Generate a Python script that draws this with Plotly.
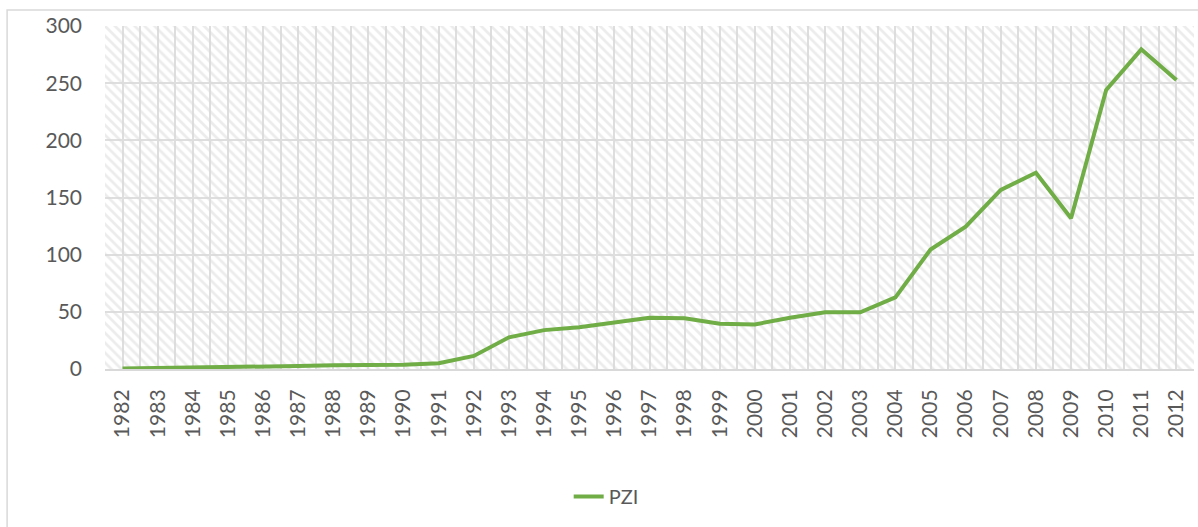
import plotly.graph_objects as go

years = [str(y) for y in range(1982, 2013)]
pzi = [0.5, 0.8, 1.5, 1.8, 2.2, 2.6, 3.2, 3.5, 3.7, 5.0, 11.4, 27.7, 34.0, 36.5, 40.8,
       44.9, 44.3, 39.6, 39.0, 44.8, 49.6, 49.6, 62.7, 104.5, 124.5, 156.6, 171.7,
       131.8, 244.0, 279.6, 252.8]
series_name = "PZI"
y_max = 300
y_step = 50

n = len(years)
xs = list(range(n))
text_color = "#595959"
grid_color = "#dedede"
font_family = "Lato, 'Open Sans', sans-serif"

fig = go.Figure()

# hatched plot-area background (decoration)
fig.add_trace(go.Bar(
    x=[(n - 1) / 2], y=[y_max], width=[n], base=0,
    marker=dict(color="rgba(0,0,0,0)", line=dict(width=0),
                pattern=dict(shape="\\", size=7, solidity=0.4,
                             fgcolor="#dadada", bgcolor="rgba(0,0,0,0)")),
    hoverinfo="skip", showlegend=False,
))

fig.add_trace(go.Scatter(
    x=xs, y=pzi, mode="lines", name=series_name,
    line=dict(color="#70AD47", width=4),
))

fig.update_layout(
    width=1198, height=527,
    margin=dict(l=105, r=4, t=26, b=158, autoexpand=False),
    paper_bgcolor="white", plot_bgcolor="white",
    font=dict(family=font_family, color=text_color, size=21),
    bargap=0,
    showlegend=True,
    legend=dict(orientation="h", xref="container", yref="container",
                x=0.506, xanchor="center", y=0.058, yanchor="middle",
                font=dict(size=20, color=text_color)),
    xaxis=dict(
        range=[-0.5, n - 0.5], tickmode="array", tickvals=xs, ticktext=years,
        tickangle=-90, showgrid=True, gridcolor=grid_color, gridwidth=1.5,
        minor=dict(tickmode="array", tickvals=[i - 0.5 for i in range(n + 1)],
                   showgrid=True, gridcolor=grid_color, gridwidth=1.5),
        showline=True, linecolor="#d9d9d9", linewidth=2,
        ticks="", ticklabelstandoff=10, zeroline=False, automargin=False,
        tickfont=dict(size=21, color=text_color),
    ),
    yaxis=dict(
        range=[0, y_max], dtick=y_step, showgrid=True, gridcolor=grid_color,
        gridwidth=1.5, zeroline=False, showline=False, ticks="",
        ticklabelstandoff=22, automargin=False,
        tickfont=dict(size=21, color=text_color),
    ),
    shapes=[dict(type="rect", xref="paper", yref="paper",
                 x0=-0.0899, x1=1.02, y0=-0.6, y1=1.0466,
                 line=dict(color="#d9d9d9", width=1.5), layer="below")],
)

fig.write_html("out.html", config={"displayModeBar": False},
               post_script="document.body.style.margin='0px';")
